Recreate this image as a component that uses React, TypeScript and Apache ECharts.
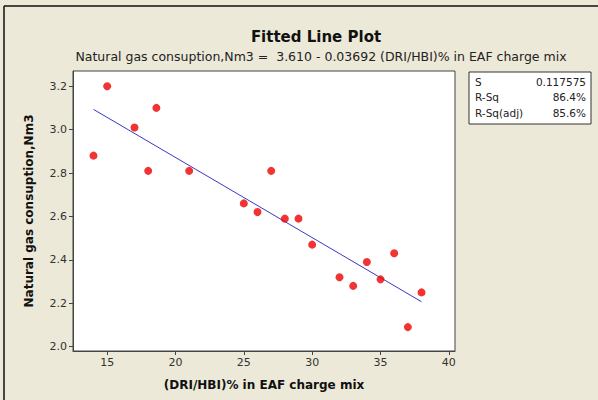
import React, { useEffect, useRef } from "react";
import * as echarts from "echarts";

// (DRI/HBI)% in EAF charge mix vs. natural gas consumption
const driPercent = [14, 15, 17, 18, 18.6, 21, 25, 26, 27, 28, 29, 30, 32, 33, 34, 35, 36, 37, 38];
const gasNm3 = [2.88, 3.2, 3.01, 2.81, 3.1, 2.81, 2.66, 2.62, 2.81, 2.59, 2.59, 2.47, 2.32, 2.28, 2.39, 2.31, 2.43, 2.09, 2.25];

// Regression coefficients: gas = intercept + slope * dri
const intercept = 3.61;
const slope = -0.03692;

const xTicks = [15, 20, 25, 30, 35, 40];
const yTicks = [2.0, 2.2, 2.4, 2.6, 2.8, 3.0, 3.2];

const statLabels = ["S", "R-Sq", "R-Sq(adj)"];
const statValues = ["0.117575", "86.4%", "85.6%"];

const FONT = "DejaVu Sans";

export default function App() {
  const ref = useRef<HTMLDivElement>(null);

  useEffect(() => {
    if (!ref.current) return;
    const chart = echarts.init(ref.current, null, { renderer: "svg" });

    const xMinData = Math.min(...driPercent);
    const xMaxData = Math.max(...driPercent);
    const fitLine = [
      [xMinData, intercept + slope * xMinData],
      [xMaxData, intercept + slope * xMaxData],
    ];

    const boxLeft = 469;
    const boxTop = 72;
    const boxW = 122;
    const rowH = 15.5;

    const statTexts: any[] = [];
    statLabels.forEach((lab, i) => {
      statTexts.push({
        type: "text",
        left: boxLeft + 6,
        top: boxTop + 4 + i * rowH,
        style: { text: lab, font: `10.5px ${FONT}`, fill: "#222" },
      });
      statTexts.push({
        type: "text",
        right: 598 - (boxLeft + boxW - 5),
        top: boxTop + 4 + i * rowH,
        style: { text: statValues[i], font: `10.5px ${FONT}`, fill: "#222", align: "right" },
      });
    });

    chart.setOption({
      animation: false,
      backgroundColor: "#ECE9D8",
      title: [
        {
          text: "Fitted Line Plot",
          left: 311,
          top: 24,
          textAlign: "center",
          textStyle: { fontFamily: FONT, fontSize: 15, fontWeight: "bold", color: "#111" },
        },
        {
          text: "Natural gas consuption,Nm3 =  3.610 - 0.03692 (DRI/HBI)% in EAF charge mix",
          left: 316,
          top: 45,
          textAlign: "center",
          textStyle: { fontFamily: FONT, fontSize: 12.5, fontWeight: "normal", color: "#222" },
        },
      ],
      grid: {
        left: 73,
        top: 71,
        width: 382,
        height: 280,
        show: true,
        backgroundColor: "#ffffff",
        borderColor: "#444",
        borderWidth: 1,
      },
      xAxis: {
        type: "value",
        min: 12.5,
        max: 40.45,
        name: "(DRI/HBI)% in EAF charge mix",
        nameLocation: "middle",
        nameGap: 28,
        nameTextStyle: { fontFamily: FONT, fontSize: 12, fontWeight: "bold", color: "#111" },
        axisLine: { show: true, onZero: false, lineStyle: { color: "#444" } },
        axisTick: { show: true, length: 4, customValues: xTicks, lineStyle: { color: "#444" } },
        axisLabel: { customValues: xTicks, fontFamily: FONT, fontSize: 11, color: "#333", margin: 6 },
        splitLine: { show: false },
      },
      yAxis: {
        type: "value",
        min: 1.98,
        max: 3.27,
        name: "Natural gas consuption,Nm3",
        nameLocation: "middle",
        nameGap: 38,
        nameTextStyle: { fontFamily: FONT, fontSize: 12, fontWeight: "bold", color: "#111" },
        axisLine: { show: true, onZero: false, lineStyle: { color: "#444" } },
        axisTick: { show: true, length: 4, customValues: yTicks, lineStyle: { color: "#444" } },
        axisLabel: {
          customValues: yTicks,
          fontFamily: FONT,
          fontSize: 11,
          color: "#333",
          margin: 6,
          formatter: (v: number) => v.toFixed(1),
        },
        splitLine: { show: false },
      },
      series: [
        {
          type: "line",
          data: fitLine,
          symbol: "none",
          lineStyle: { color: "#3838C8", width: 1 },
          z: 2,
        },
        {
          type: "scatter",
          data: driPercent.map((x, i) => [x, gasNm3[i]]),
          symbol: "circle",
          symbolSize: 8,
          itemStyle: { color: "#EE0000" },
          z: 3,
        },
      ],
      graphic: [
        {
          type: "line",
          shape: { x1: 4, y1: 6, x2: 598, y2: 6 },
          style: { stroke: "#111", lineWidth: 1.5 },
        },
        {
          type: "line",
          shape: { x1: 4, y1: 6, x2: 4, y2: 400 },
          style: { stroke: "#111", lineWidth: 1.5 },
        },
        {
          type: "rect",
          shape: { x: boxLeft, y: boxTop, width: boxW, height: 52 },
          style: { fill: "#ffffff", stroke: "#333", lineWidth: 1 },
        },
        ...statTexts,
      ],
    });

    return () => chart.dispose();
  }, []);

  return (
    <div
      ref={ref}
      style={{ position: "fixed", left: 0, top: 0, width: 598, height: 400 }}
    />
  );
}
